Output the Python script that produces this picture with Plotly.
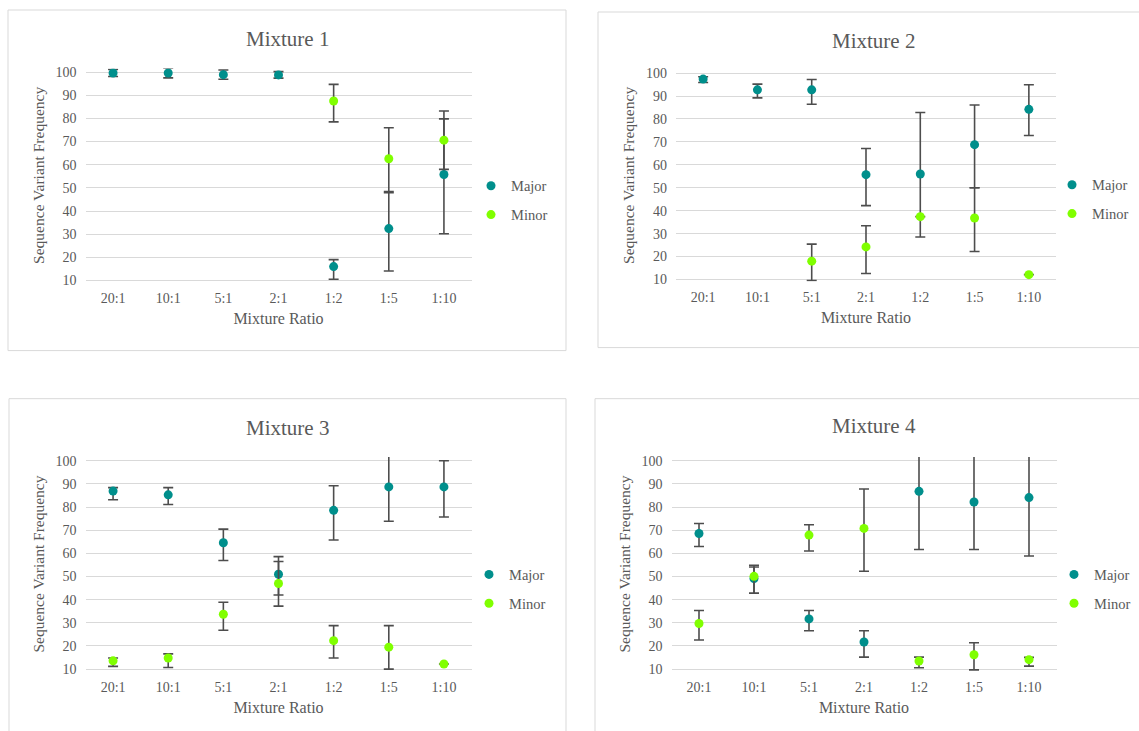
import plotly.graph_objects as go

W, H = 1139, 731

ratios = ["20:1", "10:1", "5:1", "2:1", "1:2", "1:5", "1:10"]
titles = ["Mixture 1", "Mixture 2", "Mixture 3", "Mixture 4"]
y_ticks = [10, 20, 30, 40, 50, 60, 70, 80, 90, 100]

# Mixture 1
m1_major = [99.6, 99.6, 98.9, 98.8, 16.0, 32.4, 55.8]
m1_major_up = [1.5, 2.1, 2.0, 1.4, 3.0, 16.0, 24.0]
m1_major_dn = [1.5, 2.1, 2.0, 1.4, 5.5, 18.3, 25.6]
m1_minor = [None, None, None, None, 87.5, 62.6, 70.6]
m1_minor_up = [0, 0, 0, 0, 7.2, 13.4, 12.6]
m1_minor_dn = [0, 0, 0, 0, 9.0, 14.7, 12.6]

# Mixture 2
m2_major = [97.4, 92.7, 92.7, 55.7, 56.0, 68.8, 84.2]
m2_major_up = [1.0, 2.5, 4.5, 11.4, 26.8, 17.3, 10.7]
m2_major_dn = [1.5, 3.5, 6.3, 13.5, 27.5, 18.8, 11.4]
m2_minor = [None, None, 18.0, 24.2, 37.4, 36.8, 12.1]
m2_minor_up = [0, 0, 7.4, 9.2, 0, 13.2, 0]
m2_minor_dn = [0, 0, 8.5, 11.6, 0, 14.6, 0]

# Mixture 3
m3_major = [86.9, 85.3, 64.6, 51.0, 78.6, 88.7, 88.7]
m3_major_up = [1.5, 3.1, 5.9, 7.6, 10.6, 14.8, 11.3]
m3_major_dn = [3.7, 4.2, 7.7, 9.0, 12.8, 14.8, 13.0]
m3_minor = [13.6, 14.8, 33.7, 47.0, 22.3, 19.5, 12.2]
m3_minor_up = [1.2, 1.8, 5.2, 9.5, 6.5, 9.3, 0]
m3_minor_dn = [2.4, 4.1, 6.9, 9.8, 7.5, 9.5, 0]

# Mixture 4
m4_major = [68.6, 49.1, 31.7, 21.7, 86.8, 82.2, 84.1]
m4_major_up = [4.3, 5.8, 3.6, 4.9, 25.0, 20.5, 25.0]
m4_major_dn = [5.6, 6.3, 5.1, 6.5, 25.1, 20.5, 25.2]
m4_minor = [29.7, 50.1, 67.9, 70.8, 13.5, 16.2, 14.1]
m4_minor_up = [5.6, 4.0, 4.5, 17.0, 1.7, 5.2, 1.0]
m4_minor_dn = [7.1, 7.3, 6.9, 18.5, 2.9, 6.5, 2.8]

panels = [
    (m1_major, m1_major_up, m1_major_dn, m1_minor, m1_minor_up, m1_minor_dn),
    (m2_major, m2_major_up, m2_major_dn, m2_minor, m2_minor_up, m2_minor_dn),
    (m3_major, m3_major_up, m3_major_dn, m3_minor, m3_minor_up, m3_minor_dn),
    (m4_major, m4_major_up, m4_major_dn, m4_minor, m4_minor_up, m4_minor_dn),
]


def vy(y):
    # vertical layout calibration (pixel position in the page)
    return (y - 3.0) / 0.986


# layout geometry (pixels)
geo = [
    dict(x0=85.5, x1=471.5, y100=72, y10=280, box=(8, 10, 566, 350), leg=(471, 200), title=(287, 39)),
    dict(x0=676, x1=1056, y100=73, y10=279, box=(598, 12, 1145, 347), leg=(1052, 199), title=(873, 41)),
    dict(x0=85.5, x1=471.5, y100=460, y10=668, box=(9, 398, 566, 745), leg=(469, 588), title=(287, 427)),
    dict(x0=671.5, x1=1056.5, y100=460, y10=668, box=(595, 398, 1145, 745), leg=(1054, 588), title=(874, 425)),
]

Y_LO, Y_HI = 9.2, 101.6
FONT = "Liberation Serif"
TXT = "#595959"
C_MAJOR = "#008F8C"
C_MINOR = "#80FF00"
C_ERR = "#4D4D4D"

fig = go.Figure()
shapes = []
annotations = []

for i, (g, data) in enumerate(zip(geo, panels)):
    n = i + 1
    sfx = "" if n == 1 else str(n)
    maj, maj_up, maj_dn, mnr, mnr_up, mnr_dn = data
    leg = "legend" if n == 1 else f"legend{n}"
    for name, vals, up, dn, col in [("Major", maj, maj_up, maj_dn, C_MAJOR),
                                    ("Minor", mnr, mnr_up, mnr_dn, C_MINOR)]:
        fig.add_trace(go.Scatter(
            x=ratios, y=vals, mode="markers", name=name,
            marker=dict(color=col, size=9),
            error_y=dict(type="data", symmetric=False, array=up, arrayminus=dn,
                         color=C_ERR, thickness=1.6, width=5),
            xaxis=f"x{sfx}", yaxis=f"y{sfx}", legend=leg,
            legendgroup=f"{name}{n}",
        ))
    y100, y10 = vy(g["y100"]), vy(g["y10"])
    ppu = (y10 - y100) / 90.0
    top_px = y100 - (Y_HI - 100) * ppu
    bot_px = y10 + (10 - Y_LO) * ppu
    xdom = [g["x0"] / W, g["x1"] / W]
    ydom = [1 - bot_px / H, 1 - top_px / H]
    fig.layout[f"xaxis{sfx}"] = dict(
        domain=xdom, anchor=f"y{sfx}", type="category", range=[-0.5, 6.5],
        showgrid=False, showline=False, zeroline=False, ticks="",
        tickfont=dict(family=FONT, size=14, color=TXT), ticklabelstandoff=6,
        title=dict(text="Mixture Ratio", font=dict(family=FONT, size=16, color=TXT), standoff=7),
    )
    fig.layout[f"yaxis{sfx}"] = dict(
        domain=ydom, anchor=f"x{sfx}", range=[Y_LO, Y_HI], tickvals=y_ticks,
        showgrid=True, gridcolor="#D9D9D9", gridwidth=1, showline=False, zeroline=False, ticks="",
        tickfont=dict(family=FONT, size=14, color=TXT), ticklabelstandoff=8,
        title=dict(text="Sequence Variant Frequency", font=dict(family=FONT, size=15.5, color=TXT), standoff=7),
    )
    fig.layout[leg] = dict(
        x=g["leg"][0] / W, y=1 - vy(g["leg"][1]) / H, xanchor="left", yanchor="middle",
        font=dict(family=FONT, size=14.5, color=TXT), bgcolor="rgba(0,0,0,0)",
        traceorder="grouped", tracegroupgap=7, itemwidth=30,
    )
    bx0, by0, bx1, by1 = g["box"]
    shapes.append(dict(type="rect", xref="paper", yref="paper",
                       x0=bx0 / W, x1=bx1 / W, y0=1 - vy(by1) / H, y1=1 - vy(by0) / H,
                       line=dict(color="#D9D9D9", width=1), layer="below"))
    annotations.append(dict(text=titles[i], xref="paper", yref="paper",
                            x=g["title"][0] / W, y=1 - vy(g["title"][1]) / H,
                            xanchor="center", yanchor="middle", showarrow=False,
                            font=dict(family=FONT, size=21, color=TXT)))

fig.update_layout(
    width=W, height=H, margin=dict(l=0, r=0, t=0, b=0),
    paper_bgcolor="white", plot_bgcolor="white",
    shapes=shapes, annotations=annotations, showlegend=True,
)

fig.write_html(
    "out.html",
    config={"displayModeBar": False},
    post_script=(
        "document.body.style.margin='0';"
        "document.documentElement.style.overflow='hidden';"
        "document.body.style.overflow='hidden';"
        "var d=document.getElementById('{plot_id}');"
        "d.style.position='fixed';d.style.top='0px';d.style.left='0px';"
    ),
)
